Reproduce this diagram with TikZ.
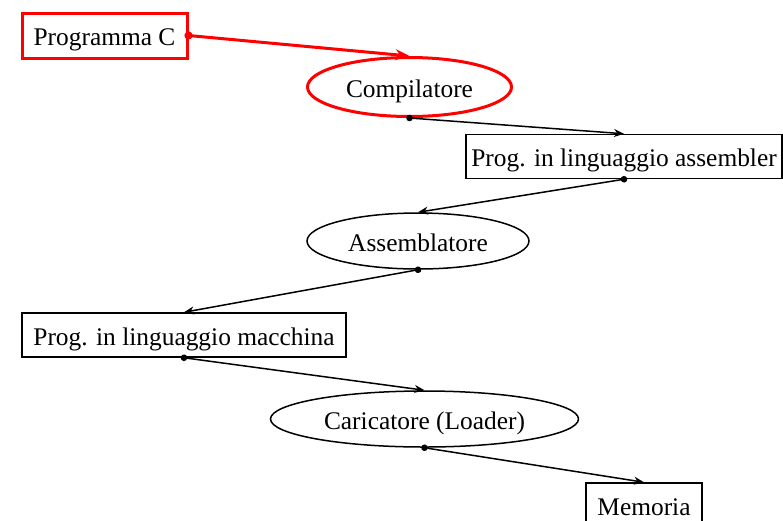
\documentclass[tikz,border=0pt]{standalone}
\usepackage{fontspec}
\setmainfont{Liberation Serif}
\usepackage{tikz}
\usetikzlibrary{shapes.geometric}
\usetikzlibrary{arrows.meta}
\definecolor{rr}{RGB}{255, 0, 0}
\tikzset{
  boxnode/.style={rectangle, draw=black, line width=1.5pt, inner sep=0pt, minimum height=44pt, text depth=3pt, text height=23pt, font=\fontsize{25.4}{30}\selectfont},
  ellnode/.style={ellipse, draw=black, line width=1.5pt, inner sep=0pt, minimum height=56pt, text depth=3pt, text height=23pt, font=\fontsize{25.4}{30}\selectfont},
  flow/.style={line width=1.5pt, color=black, {Circle[length=6.5pt]}-{Stealth[length=10pt, width=8pt]}, shorten <=-3.25pt},
  redflow/.style={line width=3pt, color=rr, {Circle[length=8pt]}-{Stealth[length=14pt, width=11pt]}, shorten <=-4pt}
}

\begin{document}
\begin{tikzpicture}[x=1pt, y=1pt]
\useasboundingbox (0pt, 0pt) rectangle (783pt, -520pt);
\begin{scope}
\clip (0pt, 0pt) rectangle (783pt, -520pt);
\node (1) [boxnode, draw=rr, line width=3pt, minimum width=165pt, minimum height=45pt] at (104.5pt, -35.5pt) {Programma C};
\node (2) [ellnode, draw=rr, line width=3pt, minimum width=204pt, minimum height=59pt] at (409.5pt, -87pt) {Compilatore};
\node (3) [boxnode, minimum width=316pt] at (624pt, -156.5pt) {Prog. in linguaggio assembler};
\node (4) [ellnode, minimum width=222pt] at (418pt, -241pt) {Assemblatore};
\node (5) [boxnode, minimum width=324pt] at (184pt, -335pt) {Prog. in linguaggio macchina};
\node (6) [ellnode, minimum width=308pt] at (424.5pt, -419pt) {Caricatore (Loader)};
\node (7) [boxnode, minimum width=116pt] at (644pt, -505pt) {Memoria};
\draw [redflow] (1.east) to (2.north);
\draw [flow] (2.south) to (3.north);
\draw [flow] (3.south) to (4.north);
\draw [flow] (4.south) to (5.north);
\draw [flow] (5.south) to (6.north);
\draw [flow] (6.south) to (7.north);
\end{scope}
\end{tikzpicture}
\end{document}
